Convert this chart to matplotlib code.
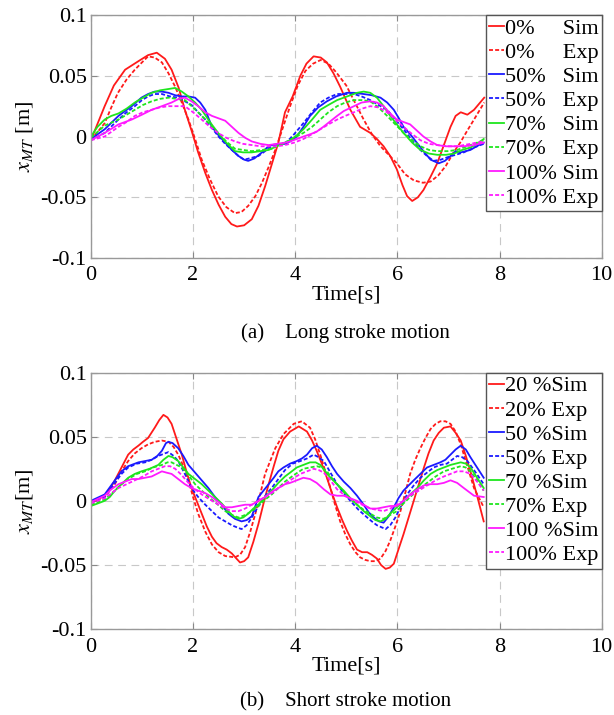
import matplotlib
matplotlib.use("Agg")
import matplotlib.pyplot as plt

plt.rcParams['font.family'] = ['Liberation Serif', 'DejaVu Serif']
plt.rcParams['mathtext.fontset'] = 'stix'

# ---------------- data: (a) long stroke ----------------
long_0sim_t = [0, 0.27, 0.45, 0.67, 0.93, 1.12, 1.29, 1.45, 1.58, 1.72, 1.84, 1.97, 2.1, 2.24, 2.37, 2.5, 2.63, 2.75, 2.86, 3.0, 3.15, 3.28, 3.41, 3.54, 3.67, 3.8, 3.95, 4.1, 4.22, 4.36, 4.5, 4.62, 4.75, 4.88, 5.08, 5.27, 5.47, 5.6, 5.73, 5.86, 5.99, 6.1, 6.19, 6.29, 6.4, 6.51, 6.65, 6.78, 6.91, 7.04, 7.14, 7.24, 7.37, 7.5, 7.6, 7.7]
long_0sim_v = [-0.003, 0.025, 0.042, 0.055, 0.062, 0.067, 0.069, 0.064, 0.055, 0.040, 0.022, 0.005, -0.013, -0.030, -0.044, -0.056, -0.066, -0.072, -0.074, -0.073, -0.068, -0.057, -0.041, -0.023, -0.005, 0.020, 0.033, 0.050, 0.060, 0.066, 0.065, 0.061, 0.052, 0.041, 0.022, 0.008, 0.003, -0.002, -0.008, -0.016, -0.027, -0.040, -0.049, -0.053, -0.050, -0.044, -0.033, -0.022, -0.007, 0.008, 0.017, 0.020, 0.018, 0.022, 0.027, 0.032]
long_0exp_t = [0, 0.27, 0.4, 0.53, 0.7, 0.86, 1.0, 1.12, 1.25, 1.39, 1.52, 1.65, 1.78, 1.91, 2.04, 2.17, 2.33, 2.49, 2.65, 2.82, 2.95, 3.08, 3.22, 3.35, 3.48, 3.61, 3.74, 3.9, 4.05, 4.2, 4.35, 4.5, 4.65, 4.8, 5.0, 5.17, 5.34, 5.5, 5.67, 5.83, 5.99, 6.15, 6.32, 6.5, 6.65, 6.8, 6.95, 7.1, 7.23, 7.37, 7.5, 7.7]
long_0exp_v = [-0.003, 0.011, 0.024, 0.036, 0.047, 0.055, 0.061, 0.066, 0.065, 0.061, 0.052, 0.041, 0.028, 0.014, -0.002, -0.019, -0.035, -0.049, -0.058, -0.063, -0.062, -0.057, -0.049, -0.038, -0.025, -0.011, 0.005, 0.025, 0.042, 0.054, 0.060, 0.063, 0.060, 0.053, 0.042, 0.028, 0.014, 0.002, -0.008, -0.015, -0.022, -0.031, -0.036, -0.038, -0.037, -0.032, -0.024, -0.013, -0.005, 0.005, 0.014, 0.028]
long_50sim_t = [0, 0.27, 0.54, 0.8, 0.99, 1.12, 1.25, 1.39, 1.52, 1.65, 1.78, 1.91, 2.04, 2.14, 2.24, 2.37, 2.5, 2.63, 2.76, 2.89, 3.0, 3.08, 3.2, 3.35, 3.45, 3.54, 3.67, 3.8, 3.9, 4.03, 4.16, 4.29, 4.45, 4.62, 4.8, 5.01, 5.15, 5.34, 5.5, 5.67, 5.8, 5.93, 6.03, 6.12, 6.25, 6.38, 6.51, 6.65, 6.81, 6.93, 7.04, 7.14, 7.24, 7.34, 7.43, 7.55, 7.69]
long_50sim_v = [-0.002, 0.006, 0.017, 0.025, 0.032, 0.035, 0.037, 0.037, 0.036, 0.034, 0.033, 0.033, 0.032, 0.028, 0.022, 0.008, 0.001, -0.005, -0.011, -0.016, -0.019, -0.020, -0.018, -0.013, -0.009, -0.007, -0.006, -0.006, -0.004, 0.000, 0.008, 0.017, 0.024, 0.029, 0.033, 0.036, 0.036, 0.035, 0.034, 0.032, 0.028, 0.022, 0.015, 0.008, 0.002, -0.005, -0.012, -0.019, -0.022, -0.020, -0.016, -0.012, -0.013, -0.012, -0.011, -0.008, -0.005]
long_50exp_t = [0, 0.27, 0.54, 0.7, 0.86, 1.0, 1.12, 1.25, 1.39, 1.55, 1.71, 1.84, 1.97, 2.1, 2.24, 2.37, 2.5, 2.63, 2.76, 2.89, 3.0, 3.1, 3.28, 3.41, 3.54, 3.67, 3.8, 3.98, 4.16, 4.33, 4.49, 4.65, 4.82, 5.0, 5.15, 5.3, 5.47, 5.63, 5.8, 5.96, 6.12, 6.29, 6.45, 6.58, 6.71, 6.85, 6.98, 7.14, 7.3, 7.5, 7.69]
long_50exp_v = [-0.003, 0.003, 0.014, 0.020, 0.025, 0.030, 0.033, 0.035, 0.035, 0.033, 0.032, 0.029, 0.026, 0.020, 0.014, 0.007, 0.000, -0.006, -0.011, -0.016, -0.019, -0.018, -0.016, -0.012, -0.008, -0.007, -0.006, 0.002, 0.011, 0.020, 0.028, 0.032, 0.035, 0.035, 0.035, 0.033, 0.030, 0.026, 0.022, 0.014, 0.006, -0.003, -0.011, -0.016, -0.020, -0.019, -0.017, -0.015, -0.013, -0.009, -0.006]
long_70sim_t = [0, 0.13, 0.27, 0.4, 0.54, 0.7, 0.86, 1.02, 1.19, 1.35, 1.5, 1.65, 1.78, 1.91, 2.04, 2.17, 2.33, 2.49, 2.65, 2.82, 2.98, 3.15, 3.32, 3.48, 3.64, 3.8, 3.9, 4.03, 4.16, 4.33, 4.49, 4.65, 4.82, 4.95, 5.08, 5.21, 5.34, 5.47, 5.6, 5.73, 5.86, 5.99, 6.12, 6.29, 6.45, 6.62, 6.78, 6.95, 7.11, 7.27, 7.43, 7.56, 7.69]
long_70sim_v = [0.000, 0.008, 0.014, 0.017, 0.019, 0.023, 0.028, 0.032, 0.036, 0.038, 0.039, 0.040, 0.037, 0.033, 0.028, 0.022, 0.012, 0.003, -0.005, -0.012, -0.013, -0.013, -0.012, -0.011, -0.008, -0.005, -0.003, 0.001, 0.006, 0.014, 0.022, 0.026, 0.030, 0.032, 0.034, 0.036, 0.037, 0.036, 0.032, 0.025, 0.017, 0.010, 0.003, -0.005, -0.011, -0.014, -0.015, -0.015, -0.014, -0.011, -0.009, -0.006, -0.002]
long_70exp_t = [0, 0.27, 0.54, 0.7, 0.86, 1.02, 1.19, 1.35, 1.52, 1.68, 1.84, 2.0, 2.17, 2.33, 2.49, 2.65, 2.82, 2.98, 3.15, 3.35, 3.54, 3.67, 3.8, 3.98, 4.16, 4.33, 4.49, 4.65, 4.82, 4.98, 5.15, 5.31, 5.47, 5.63, 5.8, 5.96, 6.12, 6.29, 6.45, 6.62, 6.78, 6.98, 7.17, 7.43, 7.69]
long_70exp_v = [-0.001, 0.009, 0.014, 0.018, 0.022, 0.026, 0.029, 0.031, 0.032, 0.031, 0.030, 0.024, 0.017, 0.010, 0.003, -0.004, -0.010, -0.011, -0.012, -0.011, -0.010, -0.007, -0.005, -0.001, 0.003, 0.008, 0.014, 0.020, 0.025, 0.028, 0.030, 0.030, 0.029, 0.024, 0.017, 0.010, 0.003, -0.003, -0.008, -0.011, -0.012, -0.012, -0.011, -0.007, -0.003]
long_100sim_t = [0, 0.27, 0.54, 0.67, 0.8, 1.0, 1.19, 1.39, 1.58, 1.72, 1.84, 1.97, 2.1, 2.24, 2.37, 2.5, 2.63, 2.76, 2.89, 3.02, 3.15, 3.32, 3.48, 3.64, 3.8, 3.9, 4.03, 4.16, 4.3, 4.42, 4.55, 4.7, 4.82, 4.95, 5.15, 5.3, 5.47, 5.6, 5.73, 5.86, 5.99, 6.12, 6.25, 6.38, 6.51, 6.65, 6.78, 6.95, 7.11, 7.3, 7.5, 7.69]
long_100sim_v = [-0.003, 0.003, 0.010, 0.012, 0.014, 0.018, 0.022, 0.025, 0.028, 0.031, 0.032, 0.029, 0.025, 0.020, 0.017, 0.015, 0.013, 0.008, 0.003, -0.001, -0.004, -0.006, -0.007, -0.006, -0.005, -0.004, -0.002, 0.000, 0.002, 0.004, 0.008, 0.013, 0.017, 0.021, 0.025, 0.028, 0.029, 0.028, 0.025, 0.019, 0.014, 0.012, 0.010, 0.005, 0.000, -0.004, -0.007, -0.008, -0.008, -0.008, -0.007, -0.005]
long_100exp_t = [0, 0.27, 0.54, 0.7, 0.86, 1.02, 1.19, 1.35, 1.52, 1.68, 1.84, 2.0, 2.17, 2.33, 2.49, 2.65, 2.82, 2.98, 3.15, 3.32, 3.48, 3.64, 3.8, 3.98, 4.16, 4.33, 4.49, 4.65, 4.82, 4.98, 5.15, 5.31, 5.47, 5.63, 5.8, 5.96, 6.12, 6.29, 6.45, 6.62, 6.78, 6.98, 7.17, 7.43, 7.69]
long_100exp_v = [-0.003, 0.000, 0.008, 0.012, 0.017, 0.020, 0.022, 0.024, 0.025, 0.025, 0.025, 0.020, 0.014, 0.008, 0.003, -0.001, -0.004, -0.006, -0.007, -0.008, -0.008, -0.008, -0.007, -0.005, -0.002, 0.002, 0.006, 0.010, 0.014, 0.017, 0.020, 0.023, 0.025, 0.024, 0.020, 0.014, 0.008, 0.002, -0.003, -0.006, -0.007, -0.008, -0.008, -0.006, -0.004]

# ---------------- data: (b) short stroke ----------------
short_20sim_t = [0, 0.13, 0.27, 0.37, 0.47, 0.6, 0.73, 0.83, 0.93, 1.02, 1.12, 1.25, 1.34, 1.42, 1.5, 1.58, 1.68, 1.78, 1.87, 1.97, 2.07, 2.17, 2.27, 2.37, 2.46, 2.56, 2.66, 2.76, 2.85, 2.92, 3.0, 3.08, 3.18, 3.28, 3.38, 3.48, 3.58, 3.67, 3.77, 3.9, 4.07, 4.23, 4.33, 4.42, 4.52, 4.62, 4.72, 4.82, 4.92, 5.01, 5.11, 5.21, 5.31, 5.41, 5.5, 5.6, 5.68, 5.77, 5.85, 5.93, 6.02, 6.12, 6.22, 6.32, 6.42, 6.52, 6.61, 6.71, 6.81, 6.91, 7.04, 7.14, 7.24, 7.34, 7.43, 7.56, 7.69]
short_20sim_v = [-0.001, 0.001, 0.004, 0.009, 0.016, 0.026, 0.036, 0.040, 0.043, 0.046, 0.049, 0.057, 0.063, 0.067, 0.065, 0.060, 0.048, 0.036, 0.023, 0.010, 0.000, -0.010, -0.020, -0.028, -0.033, -0.036, -0.038, -0.041, -0.045, -0.048, -0.047, -0.044, -0.032, -0.018, -0.002, 0.013, 0.027, 0.039, 0.048, 0.054, 0.058, 0.054, 0.047, 0.039, 0.029, 0.018, 0.006, -0.005, -0.015, -0.023, -0.031, -0.038, -0.040, -0.040, -0.042, -0.045, -0.050, -0.053, -0.052, -0.049, -0.038, -0.026, -0.013, 0.000, 0.013, 0.026, 0.037, 0.047, 0.053, 0.057, 0.058, 0.053, 0.047, 0.035, 0.023, 0.004, -0.016]
short_20exp_t = [0, 0.27, 0.47, 0.6, 0.73, 0.86, 0.99, 1.12, 1.25, 1.39, 1.52, 1.62, 1.71, 1.81, 1.91, 2.0, 2.1, 2.24, 2.37, 2.5, 2.63, 2.82, 2.92, 3.02, 3.12, 3.22, 3.32, 3.41, 3.51, 3.61, 3.77, 3.97, 4.13, 4.29, 4.39, 4.49, 4.59, 4.69, 4.78, 4.88, 4.98, 5.08, 5.18, 5.27, 5.37, 5.47, 5.57, 5.67, 5.77, 5.86, 5.96, 6.06, 6.16, 6.25, 6.35, 6.45, 6.55, 6.65, 6.75, 6.84, 6.94, 7.04, 7.14, 7.24, 7.37, 7.5, 7.69]
short_20exp_v = [-0.001, 0.003, 0.013, 0.023, 0.031, 0.037, 0.041, 0.044, 0.046, 0.047, 0.046, 0.042, 0.036, 0.027, 0.016, 0.003, -0.010, -0.024, -0.034, -0.040, -0.043, -0.044, -0.042, -0.036, -0.024, -0.010, 0.006, 0.021, 0.031, 0.041, 0.052, 0.060, 0.062, 0.057, 0.048, 0.036, 0.023, 0.010, -0.003, -0.016, -0.026, -0.034, -0.040, -0.044, -0.046, -0.047, -0.047, -0.045, -0.039, -0.031, -0.020, -0.008, 0.007, 0.021, 0.032, 0.041, 0.049, 0.056, 0.060, 0.062, 0.062, 0.060, 0.054, 0.044, 0.027, 0.010, -0.005]
short_50sim_t = [0, 0.27, 0.47, 0.6, 0.73, 0.93, 1.06, 1.19, 1.3, 1.39, 1.47, 1.52, 1.6, 1.71, 1.81, 1.91, 2.04, 2.17, 2.3, 2.43, 2.56, 2.69, 2.82, 2.95, 3.05, 3.15, 3.22, 3.28, 3.38, 3.48, 3.58, 3.67, 3.77, 3.9, 4.03, 4.13, 4.23, 4.33, 4.42, 4.52, 4.62, 4.72, 4.82, 4.95, 5.08, 5.21, 5.34, 5.44, 5.54, 5.64, 5.73, 5.83, 5.93, 6.02, 6.12, 6.22, 6.32, 6.45, 6.58, 6.71, 6.84, 6.94, 7.04, 7.14, 7.24, 7.34, 7.43, 7.56, 7.69]
short_50sim_v = [0.000, 0.005, 0.016, 0.023, 0.027, 0.030, 0.031, 0.032, 0.035, 0.039, 0.045, 0.046, 0.045, 0.041, 0.035, 0.028, 0.022, 0.016, 0.010, 0.003, -0.003, -0.010, -0.014, -0.016, -0.015, -0.012, -0.004, 0.003, 0.008, 0.013, 0.018, 0.023, 0.026, 0.029, 0.031, 0.033, 0.036, 0.041, 0.043, 0.040, 0.034, 0.027, 0.021, 0.015, 0.010, 0.004, -0.003, -0.009, -0.013, -0.016, -0.017, -0.012, -0.005, 0.002, 0.008, 0.012, 0.016, 0.021, 0.026, 0.028, 0.030, 0.032, 0.036, 0.040, 0.043, 0.040, 0.034, 0.026, 0.018]
short_50exp_t = [0, 0.27, 0.47, 0.6, 0.73, 0.9, 1.06, 1.19, 1.32, 1.45, 1.52, 1.62, 1.71, 1.84, 1.97, 2.1, 2.24, 2.37, 2.5, 2.63, 2.76, 2.88, 2.95, 3.05, 3.15, 3.25, 3.35, 3.45, 3.54, 3.67, 3.8, 3.95, 4.1, 4.23, 4.36, 4.46, 4.56, 4.69, 4.82, 4.95, 5.08, 5.24, 5.41, 5.5, 5.6, 5.77, 5.86, 5.96, 6.06, 6.19, 6.32, 6.45, 6.58, 6.71, 6.84, 6.97, 7.07, 7.17, 7.27, 7.37, 7.5, 7.69]
short_50exp_v = [-0.001, 0.003, 0.014, 0.021, 0.026, 0.029, 0.030, 0.032, 0.035, 0.037, 0.038, 0.035, 0.031, 0.021, 0.010, 0.003, -0.003, -0.008, -0.013, -0.016, -0.019, -0.021, -0.022, -0.019, -0.013, -0.006, 0.000, 0.006, 0.010, 0.017, 0.024, 0.029, 0.031, 0.033, 0.036, 0.034, 0.031, 0.022, 0.013, 0.006, 0.000, -0.007, -0.013, -0.016, -0.019, -0.022, -0.019, -0.013, -0.005, 0.005, 0.012, 0.018, 0.022, 0.026, 0.028, 0.029, 0.032, 0.035, 0.034, 0.031, 0.024, 0.013]
short_70sim_t = [0, 0.27, 0.37, 0.47, 0.6, 0.73, 0.86, 0.99, 1.15, 1.32, 1.42, 1.52, 1.6, 1.71, 1.81, 1.91, 2.04, 2.17, 2.3, 2.43, 2.56, 2.69, 2.79, 2.89, 2.98, 3.08, 3.18, 3.28, 3.41, 3.54, 3.67, 3.8, 3.9, 4.03, 4.16, 4.29, 4.4, 4.49, 4.59, 4.69, 4.82, 4.95, 5.08, 5.21, 5.34, 5.47, 5.57, 5.67, 5.77, 5.86, 5.99, 6.12, 6.25, 6.39, 6.52, 6.65, 6.78, 6.91, 7.04, 7.14, 7.24, 7.34, 7.43, 7.56, 7.69]
short_70sim_v = [-0.004, 0.000, 0.003, 0.008, 0.013, 0.018, 0.021, 0.023, 0.025, 0.028, 0.032, 0.035, 0.034, 0.031, 0.026, 0.021, 0.017, 0.013, 0.008, 0.003, -0.002, -0.008, -0.012, -0.014, -0.013, -0.010, -0.006, -0.003, 0.003, 0.008, 0.014, 0.019, 0.022, 0.026, 0.028, 0.030, 0.030, 0.028, 0.023, 0.018, 0.013, 0.008, 0.002, -0.003, -0.008, -0.012, -0.015, -0.016, -0.014, -0.010, -0.005, 0.000, 0.005, 0.010, 0.016, 0.021, 0.024, 0.026, 0.028, 0.029, 0.030, 0.029, 0.026, 0.018, 0.010]
short_70exp_t = [0, 0.27, 0.47, 0.6, 0.73, 0.9, 1.06, 1.22, 1.39, 1.5, 1.58, 1.68, 1.78, 1.91, 2.04, 2.17, 2.3, 2.46, 2.63, 2.76, 2.89, 3.02, 3.15, 3.28, 3.41, 3.54, 3.67, 3.8, 3.97, 4.16, 4.29, 4.42, 4.52, 4.62, 4.75, 4.88, 5.04, 5.21, 5.34, 5.47, 5.6, 5.73, 5.86, 5.99, 6.12, 6.25, 6.42, 6.58, 6.75, 6.91, 7.07, 7.24, 7.34, 7.43, 7.56, 7.69]
short_70exp_v = [-0.003, 0.001, 0.008, 0.013, 0.017, 0.021, 0.023, 0.026, 0.028, 0.030, 0.030, 0.028, 0.026, 0.020, 0.013, 0.008, 0.003, -0.002, -0.008, -0.011, -0.013, -0.011, -0.008, -0.004, 0.001, 0.005, 0.010, 0.015, 0.020, 0.025, 0.026, 0.027, 0.026, 0.023, 0.016, 0.010, 0.003, -0.003, -0.007, -0.010, -0.013, -0.014, -0.011, -0.008, -0.002, 0.003, 0.009, 0.014, 0.019, 0.023, 0.025, 0.027, 0.026, 0.023, 0.016, 0.008]
short_100sim_t = [0, 0.27, 0.4, 0.54, 0.67, 0.8, 0.93, 1.06, 1.19, 1.29, 1.39, 1.48, 1.58, 1.71, 1.84, 1.97, 2.1, 2.24, 2.37, 2.5, 2.63, 2.76, 2.89, 3.02, 3.15, 3.28, 3.41, 3.54, 3.67, 3.8, 3.9, 4.03, 4.16, 4.29, 4.42, 4.56, 4.69, 4.82, 4.95, 5.08, 5.21, 5.34, 5.47, 5.6, 5.73, 5.86, 5.99, 6.12, 6.25, 6.39, 6.52, 6.65, 6.78, 6.91, 7.04, 7.17, 7.3, 7.4, 7.5, 7.69]
short_100sim_v = [-0.001, 0.004, 0.009, 0.013, 0.015, 0.017, 0.017, 0.018, 0.019, 0.021, 0.023, 0.022, 0.021, 0.017, 0.013, 0.010, 0.008, 0.006, 0.003, -0.001, -0.005, -0.005, -0.004, -0.003, -0.003, 0.000, 0.003, 0.007, 0.010, 0.013, 0.014, 0.016, 0.018, 0.017, 0.014, 0.009, 0.005, 0.004, 0.004, 0.002, 0.000, -0.003, -0.006, -0.006, -0.005, -0.004, -0.004, 0.000, 0.005, 0.009, 0.012, 0.013, 0.013, 0.014, 0.016, 0.014, 0.010, 0.007, 0.004, 0.003]
short_100exp_t = [0, 0.27, 0.54, 0.7, 0.86, 1.02, 1.19, 1.32, 1.45, 1.55, 1.65, 1.78, 1.91, 2.04, 2.17, 2.33, 2.5, 2.63, 2.76, 2.89, 3.02, 3.15, 3.28, 3.41, 3.54, 3.67, 3.8, 3.94, 4.1, 4.23, 4.36, 4.46, 4.56, 4.69, 4.82, 4.98, 5.15, 5.31, 5.47, 5.6, 5.73, 5.86, 5.99, 6.12, 6.25, 6.42, 6.58, 6.75, 6.91, 7.04, 7.17, 7.3, 7.43, 7.56, 7.69]
short_100exp_v = [-0.002, 0.002, 0.010, 0.013, 0.016, 0.019, 0.023, 0.025, 0.027, 0.027, 0.025, 0.020, 0.014, 0.009, 0.005, 0.001, -0.003, -0.006, -0.008, -0.008, -0.006, -0.003, 0.000, 0.003, 0.006, 0.010, 0.013, 0.017, 0.021, 0.023, 0.025, 0.024, 0.022, 0.016, 0.009, 0.004, 0.000, -0.003, -0.006, -0.007, -0.008, -0.006, -0.003, 0.000, 0.004, 0.008, 0.012, 0.016, 0.019, 0.021, 0.023, 0.023, 0.021, 0.015, 0.008]

long_labels = ['0%     Sim', '0%     Exp', '50%   Sim', '50%   Exp',
               '70%   Sim', '70%   Exp', '100% Sim', '100% Exp']
short_labels = ['20 %Sim', '20% Exp', '50 %Sim', '50% Exp',
                '70 %Sim', '70% Exp', '100 %Sim', '100% Exp']
xticks = [0, 2, 4, 6, 8, 10]
xtick_labels = ['0', '2', '4', '6', '8', '10']
yticks = [-0.1, -0.05, 0, 0.05, 0.1]
ytick_labels = ['-0.1', '-0.05', '0', '0.05', '0.1']

long_series = [(long_0sim_t, long_0sim_v), (long_0exp_t, long_0exp_v),
               (long_50sim_t, long_50sim_v), (long_50exp_t, long_50exp_v),
               (long_70sim_t, long_70sim_v), (long_70exp_t, long_70exp_v),
               (long_100sim_t, long_100sim_v), (long_100exp_t, long_100exp_v)]
short_series = [(short_20sim_t, short_20sim_v), (short_20exp_t, short_20exp_v),
                (short_50sim_t, short_50sim_v), (short_50exp_t, short_50exp_v),
                (short_70sim_t, short_70sim_v), (short_70exp_t, short_70exp_v),
                (short_100sim_t, short_100sim_v), (short_100exp_t, short_100exp_v)]

colors = ['#ff1a1a', '#ff1a1a', '#1a1aff', '#1a1aff',
          '#1ee61e', '#1ee61e', '#ff1aff', '#ff1aff']
dashed = (0, (2.2, 1.2))
styles = ['-', dashed] * 4

FS = 16
fig = plt.figure(figsize=(6.14, 7.15), dpi=100)
ax1 = fig.add_axes([0.148, 0.639, 0.832, 0.340])
ax2 = fig.add_axes([0.148, 0.120, 0.832, 0.359])


def style_axes(ax, series, labels, ylabel):
    for (t, v), c, ls, lab in zip(series, colors, styles, labels):
        ax.plot(t, v, color=c, linestyle=ls, lw=1.3, label=lab)
    ax.set_xlim(0, 10)
    ax.set_ylim(-0.1, 0.1)
    ax.set_xticks(xticks)
    ax.set_xticklabels(xtick_labels)
    ax.set_yticks(yticks)
    ax.set_yticklabels(ytick_labels)
    ax.tick_params(direction='in', length=4, width=0.8, color='#888888',
                   top=True, right=True, labelsize=FS)
    ax.tick_params(axis='x', pad=6)
    ax.tick_params(axis='y', pad=3)
    for s in ax.spines.values():
        s.set_color('#999999')
        s.set_linewidth(1.0)
    ax.grid(True, color='#c8c8c8', linestyle=(0, (7, 5)), linewidth=0.8)
    ax.set_axisbelow(True)
    ax.set_xlabel('Time[s]', fontsize=FS, labelpad=0)
    ax.set_ylabel(ylabel, fontsize=FS, labelpad=4)
    leg = ax.legend(loc='upper right', fontsize=FS, frameon=True, fancybox=False,
                    edgecolor='#555555', framealpha=1, borderaxespad=0,
                    handlelength=0.65, handletextpad=0.05, labelspacing=0.16,
                    borderpad=0.15)
    leg.get_frame().set_linewidth(1.0)


style_axes(ax1, long_series, long_labels, r'$x_{MT}$ [m]')
style_axes(ax2, short_series, short_labels, r'$x_{MT}$[m]')

fig.text(0.563, 1 - 333 / 715, '(a)    Long stroke motion', fontsize=15,
         ha='center', va='center')
fig.text(0.563, 1 - 702 / 715, '(b)    Short stroke motion', fontsize=15,
         ha='center', va='center')

fig.savefig('out.png', dpi=100)
